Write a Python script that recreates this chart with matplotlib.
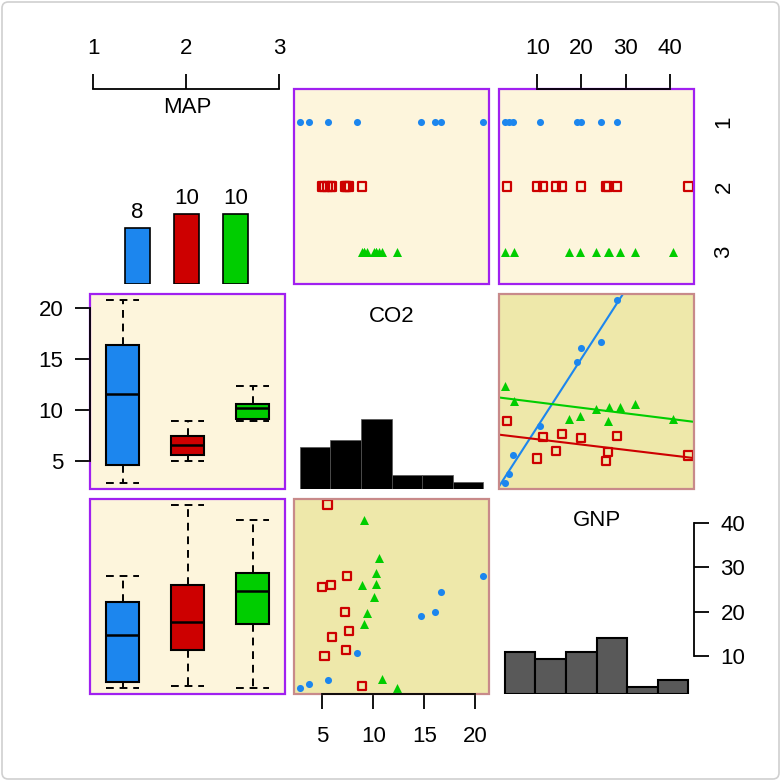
import numpy as np
import matplotlib
matplotlib.use("Agg")
import matplotlib.pyplot as plt
from matplotlib.patches import Rectangle, FancyBboxPatch

plt.rcParams['font.family'] = ['Liberation Sans', 'DejaVu Sans']
plt.rcParams['font.size'] = 16

# ------------------------------------------------------------
# Data: CO2 and GNP for each country, split by MAP group
# ------------------------------------------------------------
map_levels = [1, 2, 3]
map_colors = ["#1C86EE", "#CD0000", "#00CD00"]
map_markers = ["o", "s", "^"]

co2_map1 = [2.75, 3.7, 5.5, 8.4, 14.7, 16.0, 16.6, 20.8]
co2_map2 = [8.85, 5.5, 7.4, 5.85, 5.0, 7.2, 7.6, 5.9, 7.3, 5.2]
co2_map3 = [12.3, 10.85, 9.08, 9.37, 10.05, 10.26, 10.26, 10.54, 8.85, 9.07]

gnp_map1 = [2.7, 3.6, 4.5, 10.6, 19.0, 20.0, 24.4, 28.1]
gnp_map2 = [3.2, 44.2, 28.0, 26.1, 25.5, 19.8, 15.6, 14.2, 11.3, 10.0]
gnp_map3 = [2.6, 4.8, 17.1, 19.6, 23.2, 26.3, 28.7, 32.0, 25.9, 40.8]

co2_groups = [np.array(co2_map1), np.array(co2_map2), np.array(co2_map3)]
gnp_groups = [np.array(gnp_map1), np.array(gnp_map2), np.array(gnp_map3)]
co2_all = np.concatenate(co2_groups)
gnp_all = np.concatenate(gnp_groups)
n_total = len(co2_all)
counts = [len(g) for g in co2_groups]

co2_ticks = [5, 10, 15, 20]
gnp_ticks = [10, 20, 30, 40]


def padded(x, frac=0.03):
    r = x.max() - x.min()
    return (x.min() - frac * r, x.max() + frac * r)


co2_lim = padded(co2_all)
gnp_lim = padded(gnp_all)

# Tukey five-number summary, as used by R's boxplot
def box_stats(x):
    x = np.sort(x)
    n = len(x)
    n4 = np.floor((n + 3) / 2) / 2
    d = np.array([1, n4, (n + 1) / 2, n + 1 - n4, n])
    fn = 0.5 * (x[np.floor(d).astype(int) - 1] + x[np.ceil(d).astype(int) - 1])
    iqr = fn[3] - fn[1]
    inside = x[(x >= fn[1] - 1.5 * iqr) & (x <= fn[3] + 1.5 * iqr)]
    return dict(med=fn[2], q1=fn[1], q3=fn[3],
                whislo=inside.min(), whishi=inside.max(), fliers=[])


# ------------------------------------------------------------
# Figure layout
# ------------------------------------------------------------
W = 781
fig = plt.figure(figsize=(W / 100, W / 100), dpi=100)
fig.patch.set_facecolor("white")
fig.add_artist(FancyBboxPatch((2 / W, 2 / W), 777 / W, 777 / W,
                              boxstyle="round,pad=0,rounding_size=0.008",
                              transform=fig.transFigure, fill=False,
                              edgecolor="#d0d0d0", lw=1.2))

col_left = [90, 294, 499]
row_top = [89, 294, 499]
size = 195

cat_bg, cat_edge = "#FDF5DC", "#A020F0"
num_bg, num_edge = "#EEE8AA", "#C88A8A"
tick_len = 11


def panel(row, col):
    ax = fig.add_axes([col_left[col] / W, 1 - (row_top[row] + size) / W,
                       size / W, size / W])
    for s in ax.spines.values():
        s.set_visible(False)
    ax.set_xticks([])
    ax.set_yticks([])
    ax.patch.set_alpha(0)
    return ax


def frame(ax, bg, edge):
    ax.add_patch(Rectangle((0, 0), 1, 1, transform=ax.transAxes,
                           facecolor=bg, edgecolor="none", zorder=0))
    ax.add_patch(Rectangle((0, 0), 1, 1, transform=ax.transAxes,
                           facecolor="none", edgecolor=edge, lw=1.6,
                           zorder=6, clip_on=False))


def side_axis(ax, side, ticks, pad):
    sp = ax.spines[side]
    sp.set_visible(True)
    sp.set_bounds(ticks[0], ticks[-1])
    sp.set_linewidth(1.3)
    sp.set_zorder(7)
    if side in ("top", "bottom"):
        ax.set_xticks(ticks)
        ax.xaxis.set_ticks_position(side)
        ax.tick_params(axis="x", length=tick_len, width=1.3, pad=pad, direction="out")
    else:
        ax.set_yticks(ticks)
        ax.yaxis.set_ticks_position(side)
        ax.tick_params(axis="y", length=tick_len, width=1.3, pad=pad, direction="out")


def group_scatter(ax, xs, ys):
    for x, y, c, m in zip(xs, ys, map_colors, map_markers):
        if m == "s":
            ax.scatter(x, y, marker=m, s=34, facecolors="none", edgecolors=c,
                       linewidths=1.6, zorder=3)
        elif m == "^":
            ax.scatter(x, y, marker=m, s=42, color=c, linewidths=0, zorder=3)
        else:
            ax.scatter(x, y, marker=m, s=26, color=c, linewidths=0, zorder=3)


# MAP: bar chart of group sizes
ax = panel(0, 0)
bar_pos = [2 + (lv - 2) * 0.527 for lv in map_levels]
ax.set_xlim(0.965, 3.06)
ax.set_ylim(0, n_total)
ax.bar(bar_pos, counts, width=0.27, color=map_colors, edgecolor="black", lw=1.2)
for x, c in zip(bar_pos, counts):
    ax.annotate(str(c), (x, c), xytext=(0, 4), textcoords="offset points",
                ha="center", va="bottom")
ax.text(0.5, 0.903, "MAP", transform=ax.transAxes, ha="center", va="center")
side_axis(ax, "top", map_levels, 10.5)

# CO2 (x) vs MAP (y)
ax = panel(0, 1)
frame(ax, cat_bg, cat_edge)
ax.set_xlim(co2_lim)
ax.set_ylim(3.5, 0.5)
group_scatter(ax, co2_groups, [np.full(len(g), lv) for g, lv in zip(co2_groups, map_levels)])

# GNP (x) vs MAP (y)
ax = panel(0, 2)
frame(ax, cat_bg, cat_edge)
ax.set_xlim(gnp_lim)
ax.set_ylim(3.5, 0.5)
group_scatter(ax, gnp_groups, [np.full(len(g), lv) for g, lv in zip(gnp_groups, map_levels)])
side_axis(ax, "top", gnp_ticks, 10.5)
ax.spines["right"].set_visible(False)
ax.yaxis.set_ticks_position("right")
ax.set_yticks(map_levels)
ax.tick_params(axis="y", length=0, pad=14, labelrotation=90)
for lab in ax.get_yticklabels():
    lab.set_verticalalignment("center")

# CO2 by MAP boxplots
box_kw = dict(widths=0.5, capwidths=0.5, patch_artist=True, showfliers=False,
              boxprops=dict(edgecolor="black", lw=1.5),
              medianprops=dict(color="black", lw=1.8),
              whiskerprops=dict(color="black", lw=1.4, ls=(0, (4, 3))),
              capprops=dict(color="black", lw=1.4, ls=(0, (4, 3))))

ax = panel(1, 0)
frame(ax, cat_bg, cat_edge)
bp = ax.bxp([box_stats(g) for g in co2_groups], positions=map_levels, **box_kw)
for b, c in zip(bp["boxes"], map_colors):
    b.set_facecolor(c)
ax.set_xlim(0.5, 3.5)
ax.set_ylim(co2_lim)
ax.set_xticks([])
side_axis(ax, "left", co2_ticks, 8)

# CO2 histogram
ax = panel(1, 1)
ax.hist(co2_all, bins=6, color="black", edgecolor="#555555", lw=0.5)
ax.set_xlim(co2_lim)
ax.set_ylim(0, n_total)
ax.text(0.5, 0.887, "CO2", transform=ax.transAxes, ha="center", va="center")

# CO2 (y) vs GNP (x) with a fitted line per group
ax = panel(1, 2)
frame(ax, num_bg, num_edge)
ax.set_xlim(gnp_lim)
ax.set_ylim(co2_lim)
group_scatter(ax, gnp_groups, co2_groups)
xs = np.array(gnp_lim)
for g, c, col in zip(gnp_groups, co2_groups, map_colors):
    slope, icpt = np.polyfit(g, c, 1)
    ax.plot(xs, icpt + slope * xs, color=col, lw=1.5, zorder=2)

# GNP by MAP boxplots
ax = panel(2, 0)
frame(ax, cat_bg, cat_edge)
bp = ax.bxp([box_stats(g) for g in gnp_groups], positions=map_levels, **box_kw)
for b, c in zip(bp["boxes"], map_colors):
    b.set_facecolor(c)
ax.set_xlim(0.5, 3.5)
ax.set_ylim(gnp_lim)
ax.set_xticks([])
ax.set_yticks([])

# GNP (y) vs CO2 (x)
ax = panel(2, 1)
frame(ax, num_bg, num_edge)
ax.set_xlim(co2_lim)
ax.set_ylim(gnp_lim)
group_scatter(ax, co2_groups, gnp_groups)
side_axis(ax, "bottom", co2_ticks, 12)

# GNP histogram
ax = panel(2, 2)
ax.hist(gnp_all, bins=6, color="#595959", edgecolor="black", lw=1.5)
ax.set_xlim(gnp_lim)
ax.set_ylim(0, n_total)
ax.text(0.5, 0.892, "GNP", transform=ax.transAxes, ha="center", va="center")
ax2 = ax.twinx()
for s in ax2.spines.values():
    s.set_visible(False)
ax2.set_ylim(gnp_lim)
side_axis(ax2, "right", gnp_ticks, 8)

fig.savefig("out.png", dpi=100)
